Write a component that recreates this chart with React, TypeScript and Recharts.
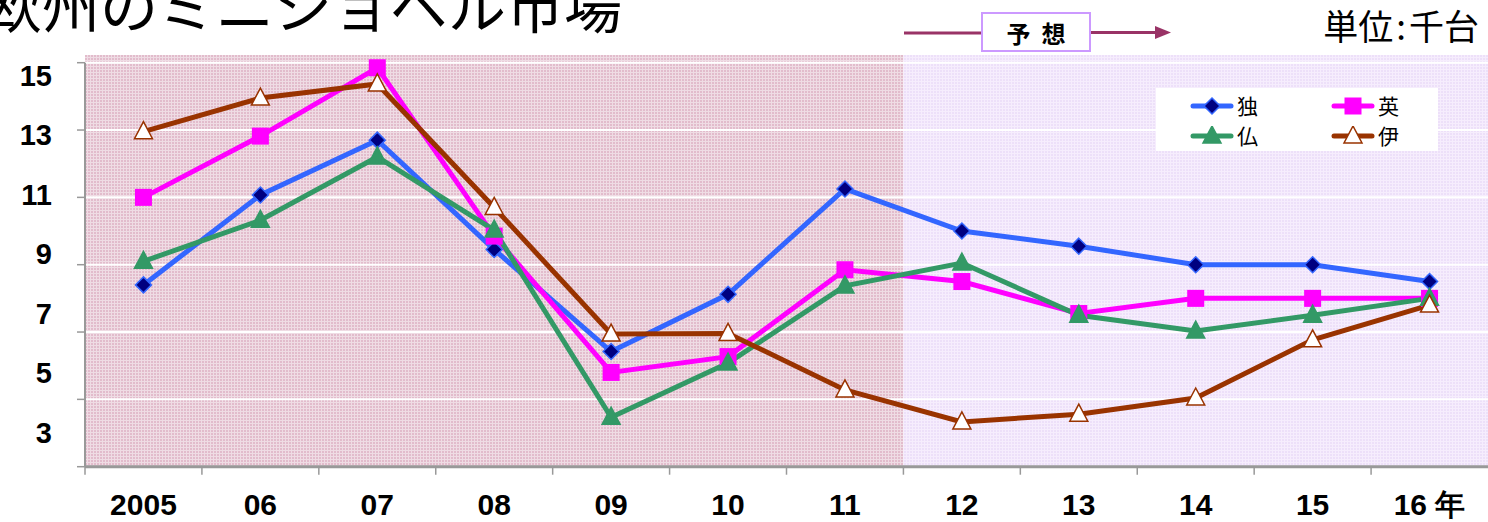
import { LineChart, Line, XAxis, YAxis, ReferenceArea, ReferenceLine } from 'recharts';

// 欧州のミニショベル市場 (単位: 千台)
const CATEGORIES = ['2005', '06', '07', '08', '09', '10', '11', '12', '13', '14', '15', '16 年'];
const GERMANY = [8.4, 11.07, 12.7, 9.45, 6.42, 8.12, 11.25, 10.0, 9.55, 9.0, 9.0, 8.5];
const UK = [11.0, 12.82, 14.85, 9.85, 5.8, 6.27, 8.85, 8.5, 7.55, 8.0, 8.0, 8.0];
const FRANCE = [9.1, 10.32, 12.2, 10.03, 4.47, 6.08, 8.37, 9.05, 7.5, 7.03, 7.5, 8.0];
const ITALY = [12.95, 13.95, 14.37, 10.7, 6.94, 6.96, 5.28, 4.33, 4.56, 5.04, 6.77, 7.8];
const Y_TICKS = [3, 5, 7, 9, 11, 13, 15];
const LAST_ACTUAL = 6; // index of "11", forecast starts after it

const data = CATEGORIES.map((name, i) => ({
  x: i,
  name,
  独: GERMANY[i],
  英: UK[i],
  仏: FRANCE[i],
  伊: ITALY[i],
}));

const W = 1488;
const H = 522;
const PLOT_LEFT = 85;
const PLOT_TOP = 62.7;
const BAND = (W - PLOT_LEFT) / CATEGORIES.length;

const LABEL_FONT = '"Liberation Sans", Arial, sans-serif';
const JP_FONT = '"Noto Sans CJK JP", "Noto Sans", sans-serif';

const Diamond = (p: any) => {
  const { cx, cy } = p;
  if (cx == null || cy == null) return null;
  return (
    <polygon
      key={`dm-${p.index}`}
      points={`${cx},${cy - 8} ${cx + 8},${cy} ${cx},${cy + 8} ${cx - 8},${cy}`}
      fill="#000080"
      stroke="#3366ff"
      strokeWidth={1.5}
    />
  );
};

const Square = (p: any) => {
  const { cx, cy } = p;
  if (cx == null || cy == null) return null;
  return <rect key={`sq-${p.index}`} x={cx - 8.5} y={cy - 8.5} width={17} height={17} fill="#ff00ff" />;
};

const makeTriangle = (fill: string, stroke: string) => (p: any) => {
  const { cx, cy } = p;
  if (cx == null || cy == null) return null;
  return (
    <polygon
      key={`tr-${p.index}`}
      points={`${cx},${cy - 10} ${cx + 9},${cy + 7} ${cx - 9},${cy + 7}`}
      fill={fill}
      stroke={stroke}
      strokeWidth={1.5}
    />
  );
};

const SERIES = [
  { key: '独', color: '#3366ff', dot: Diamond },
  { key: '英', color: '#ff00ff', dot: Square },
  { key: '仏', color: '#339966', dot: makeTriangle('#339966', '#339966') },
  { key: '伊', color: '#993300', dot: makeTriangle('#ffffff', '#993300') },
];

// labels in the source sit in an evenly spaced column, a bit tighter than the grid
const YTick = (p: any) => {
  const { x, y, payload } = p;
  const center = 75 + (y - PLOT_TOP) * 0.885;
  return (
    <text x={x - 23} y={center + 10.5} textAnchor="end" fontFamily={LABEL_FONT} fontWeight="bold" fontSize={29} fill="#000">
      {payload.value}
    </text>
  );
};

const XTick = (p: any) => {
  const { x, y, payload } = p;
  const left = x - BAND / 2;
  return (
    <g>
      <line x1={left} y1={y} x2={left} y2={y + 8} stroke="#999" strokeWidth={1.5} />
      <text x={x} y={y + 48} textAnchor="middle" fontFamily={LABEL_FONT} fontWeight="bold" fontSize={30} fill="#000">
        {CATEGORIES[payload.value]}
      </text>
    </g>
  );
};

const LegendMark = ({ s }: { s: (typeof SERIES)[number] }) => {
  const Dot = s.dot;
  return (
    <svg width={44} height={20} style={{ display: 'block' }}>
      <line x1={3} y1={10} x2={41} y2={10} stroke={s.color} strokeWidth={5} strokeLinecap="round" />
      <Dot cx={22} cy={10} index={0} />
    </svg>
  );
};

export default function App() {
  return (
    <div style={{ position: 'absolute', left: 0, top: 0, width: W, height: H, overflow: 'hidden', background: '#fff' }}>
      <LineChart width={W} height={H} data={data} margin={{ top: PLOT_TOP, right: 0, bottom: 0.3, left: 0 }}>
        <defs>
          <pattern id="pinkGrid" width={3} height={3} patternUnits="userSpaceOnUse">
            <rect width={3} height={3} fill="#efdce4" />
            <rect x={1} y={1} width={2} height={2} fill="#e2bccc" />
          </pattern>
          <pattern id="lavGrid" width={3} height={3} patternUnits="userSpaceOnUse">
            <rect width={3} height={3} fill="#f6edfd" />
            <rect x={1} y={1} width={2} height={2} fill="#ede0f9" />
          </pattern>
        </defs>
        <XAxis
          dataKey="x"
          type="number"
          domain={[-0.5, CATEGORIES.length - 0.5]}
          ticks={CATEGORIES.map((_, i) => i)}
          interval={0}
          height={55}
          tickSize={0}
          tickMargin={0}
          tickLine={false}
          axisLine={{ stroke: '#999', strokeWidth: 3 }}
          tick={<XTick />}
        />
        <YAxis
          type="number"
          domain={[3, 15]}
          ticks={Y_TICKS}
          width={PLOT_LEFT}
          tickSize={8}
          axisLine={{ stroke: '#999', strokeWidth: 2 }}
          tickLine={{ stroke: '#999', strokeWidth: 1.5 }}
          tick={<YTick />}
        />
        <ReferenceArea
          x1={-0.5}
          x2={LAST_ACTUAL + 0.5}
          y1={3}
          y2={15.23}
          ifOverflow="visible"
          fill="url(#pinkGrid)"
          fillOpacity={1}
          stroke="none"
        />
        <ReferenceArea
          x1={LAST_ACTUAL + 0.5}
          x2={CATEGORIES.length - 0.5}
          y1={3}
          y2={15.23}
          ifOverflow="visible"
          fill="url(#lavGrid)"
          fillOpacity={1}
          stroke="none"
        />
        {Y_TICKS.filter((t) => t > 3).map((t) => (
          <ReferenceLine key={t} y={t} stroke="#ffffff" strokeWidth={2} />
        ))}
        {SERIES.map((s) => (
          <Line
            key={s.key}
            dataKey={s.key}
            stroke={s.color}
            strokeWidth={5}
            dot={s.dot}
            activeDot={false}
            isAnimationActive={false}
          />
        ))}
      </LineChart>

      <div
        style={{
          position: 'absolute',
          left: -16,
          top: -26,
          fontFamily: JP_FONT,
          fontSize: 58,
          lineHeight: 1,
          whiteSpace: 'nowrap',
          color: '#000',
        }}
      >
        欧州のミニショベル市場
      </div>

      <div
        style={{
          position: 'absolute',
          right: 9,
          top: 7,
          fontFamily: JP_FONT,
          fontSize: 35,
          lineHeight: 1,
          whiteSpace: 'nowrap',
          color: '#000',
        }}
      >
        単位<span style={{ margin: '0 3px' }}>:</span>千台
      </div>

      <svg style={{ position: 'absolute', left: 0, top: 0 }} width={W} height={60}>
        <line x1={904} y1={33} x2={981} y2={33} stroke="#993366" strokeWidth={3} />
        <line x1={1091} y1={32.5} x2={1158} y2={32.5} stroke="#993366" strokeWidth={3} />
        <polygon points="1155,26 1171,32.5 1155,39" fill="#993366" />
      </svg>
      <div
        style={{
          position: 'absolute',
          left: 981,
          top: 12,
          width: 110,
          height: 40,
          boxSizing: 'border-box',
          border: '2px solid #cc99ff',
          background: '#fff',
          display: 'flex',
          alignItems: 'center',
          justifyContent: 'center',
          fontFamily: JP_FONT,
          fontWeight: 'bold',
          fontSize: 24,
          color: '#000',
          whiteSpace: 'pre',
        }}
      >
        予  想
      </div>

      <div
        style={{
          position: 'absolute',
          left: 1156,
          top: 88,
          width: 282,
          height: 63,
          background: '#fff',
        }}
      >
        {SERIES.map((s, i) => (
          <div
            key={s.key}
            style={{
              position: 'absolute',
              left: i % 2 === 0 ? 34 : 175,
              top: i < 2 ? 7 : 37,
              display: 'flex',
              alignItems: 'center',
              fontFamily: JP_FONT,
              fontSize: 21,
              lineHeight: 1,
              color: '#000',
            }}
          >
            <LegendMark s={s} />
            <span style={{ marginLeft: 3 }}>{s.key}</span>
          </div>
        ))}
      </div>
    </div>
  );
}
